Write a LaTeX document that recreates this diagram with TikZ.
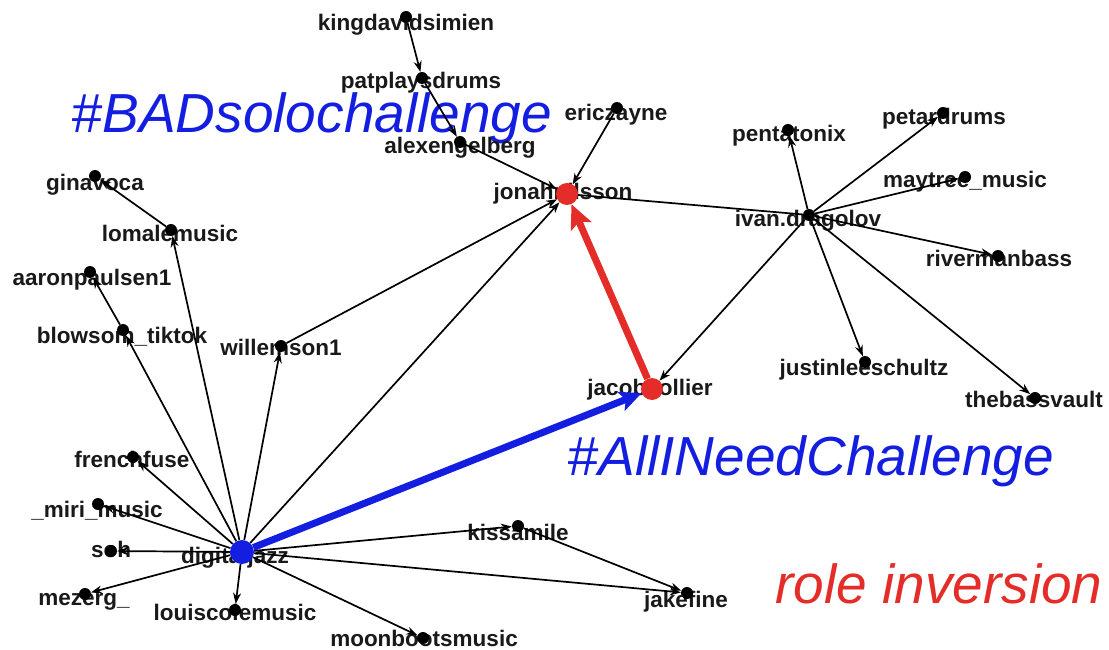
\documentclass[tikz,border=0pt]{standalone}
\usepackage{fontspec}
\setmainfont{Liberation Sans}
\usetikzlibrary{arrows.meta}
\definecolor{hblue}{RGB}{20,30,225}
\definecolor{hred}{RGB}{228,45,40}
\definecolor{labgray}{RGB}{25,25,25}
\begin{document}
\begin{tikzpicture}[x=1pt,y=-1pt,
  lab/.style={font=\bfseries\fontsize{22.5}{24}\selectfont, text=labgray, anchor=base, inner sep=0pt},
  big/.style={font=\itshape\fontsize{55}{60}\selectfont, anchor=base, inner sep=0pt},
  dot/.style={circle, fill=black, inner sep=0pt, minimum size=12pt},
  reddot/.style={circle, fill=hred, inner sep=0pt, minimum size=22pt},
  bluedot/.style={circle, fill=hblue, inner sep=0pt, minimum size=24pt},
  edge/.style={draw=black, line width=1.7pt, -{Stealth[length=11pt,width=8pt]}},
  plainedge/.style={draw=black, line width=1.7pt}]

\useasboundingbox (0,0) rectangle (1109,650);
\fill[white] (0,0) rectangle (1109,650);

% big labels
\node[big, text=hblue] (tbad) at (312,133) {\#BADsolochallenge};
\node[big, text=hblue] (tall) at (811,475) {\#AllINeedChallenge};
\node[big, text=hred] (trole) at (939,603) {role inversion};

% labels
\node[lab] (lking) at (406,31) {kingdavidsimien};
\node[lab] (lpat) at (421,89) {patplaysdrums};
\node[lab] (lalex) at (460,154) {alexengelberg};
\node[lab] (leric) at (616,121) {ericzayne};
\node[lab] (ljonah) at (563,200) {jonahnilsson};
\node[lab] (livan) at (808,226) {ivan.dragolov};
\node[lab] (lpenta) at (789,142) {pentatonix};
\node[lab] (lpetar) at (944,125) {petardrums};
\node[lab] (lmay) at (965,187) {maytree\_music};
\node[lab] (lriver) at (999,266) {rivermanbass};
\node[lab] (ljustin) at (864,375) {justinleeschultz};
\node[lab] (lbassv) at (1034,407) {thebassvault};
\node[lab] (ljacob) at (650,395) {jacobcollier};
\node[lab] (ldj) at (235,563) {digitaljazz};
\node[lab] (lfrench) at (132,467) {frenchfuse};
\node[lab] (lmiri) at (97,517) {\_miri\_music};
\node[lab] (lsoh) at (111,557) {soh};
\node[lab] (lmez) at (84,605) {mezerg\_};
\node[lab] (llouis) at (235,620) {louiscolemusic};
\node[lab] (lmoon) at (424,646) {moonbootsmusic};
\node[lab] (lkiss) at (518,540) {kissamile};
\node[lab] (ljake) at (686,607) {jakefine};
\node[lab] (lblow) at (122,343) {blowsom\_tiktok};
\node[lab] (laaron) at (92,285) {aaronpaulsen1};
\node[lab] (llomale) at (170,241) {lomalemusic};
\node[lab] (lgina) at (95,190) {ginavoca};
\node[lab] (lwillem) at (281,355) {willemson1};

% dots
\node[dot] (king) at (406,17) {};
\node[dot] (pat) at (422,78) {};
\node[dot] (alex) at (460,142) {};
\node[dot] (eric) at (617,108) {};
\node[dot] (ivan) at (809,215) {};
\node[dot] (penta) at (788,130) {};
\node[dot] (petar) at (943,113) {};
\node[dot] (may) at (965,177) {};
\node[dot] (river) at (998,256) {};
\node[dot] (justin) at (865,362) {};
\node[dot] (bassv) at (1035,398) {};
\node[dot] (french) at (133,457) {};
\node[dot] (miri) at (98,504) {};
\node[dot] (soh) at (111,551) {};
\node[dot] (mez) at (85,594) {};
\node[dot] (louis) at (235,610) {};
\node[dot] (moon) at (423,638) {};
\node[dot] (kiss) at (518,526) {};
\node[dot] (jake) at (687,593) {};
\node[dot] (blow) at (123,330) {};
\node[dot] (aaron) at (90,272) {};
\node[dot] (lomale) at (171,230) {};
\node[dot] (gina) at (95,176) {};
\node[dot] (willem) at (281,346) {};
\node[reddot] (jonah) at (567,194) {};
\node[reddot] (jacob) at (652,389) {};
\node[bluedot] (dj) at (242,552) {};

% edges
\draw[edge] (king) -- (pat);
\draw[edge] (pat) -- (alex);
\draw[edge] (alex) -- (jonah);
\draw[edge] (eric) -- (jonah);
\draw[plainedge] (ivan) -- (jonah);
\draw[edge] (willem) -- (jonah);
\draw[edge] (dj) -- (jonah);
\draw[edge] (ivan) -- (penta);
\draw[edge] (ivan) -- (petar);
\draw[edge] (ivan) -- (may);
\draw[edge] (ivan) -- (river);
\draw[edge] (ivan) -- (justin);
\draw[edge] (ivan) -- (bassv);
\draw[edge] (ivan) -- (jacob);
\draw[edge] (dj) -- (french);
\draw[edge] (dj) -- (miri);
\draw[edge] (dj) -- (soh);
\draw[edge] (dj) -- (mez);
\draw[edge] (dj) -- (louis);
\draw[edge] (dj) -- (moon);
\draw[edge] (dj) -- (kiss);
\draw[edge] (dj) -- (jake);
\draw[edge] (kiss) -- (jake);
\draw[edge] (dj) -- (blow);
\draw[edge] (blow) -- (aaron);
\draw[edge] (dj) -- (lomale);
\draw[edge] (lomale) -- (gina);
\draw[edge] (dj) -- (willem);

% highlighted arrows
\draw[draw=hblue, line width=7pt, -{Stealth[length=22pt,width=20pt,inset=5pt]}] (dj) -- (jacob);
\draw[draw=hred, line width=7pt, -{Stealth[length=24pt,width=22pt,inset=5pt]}] (jacob) -- (jonah);
\end{tikzpicture}
\end{document}
